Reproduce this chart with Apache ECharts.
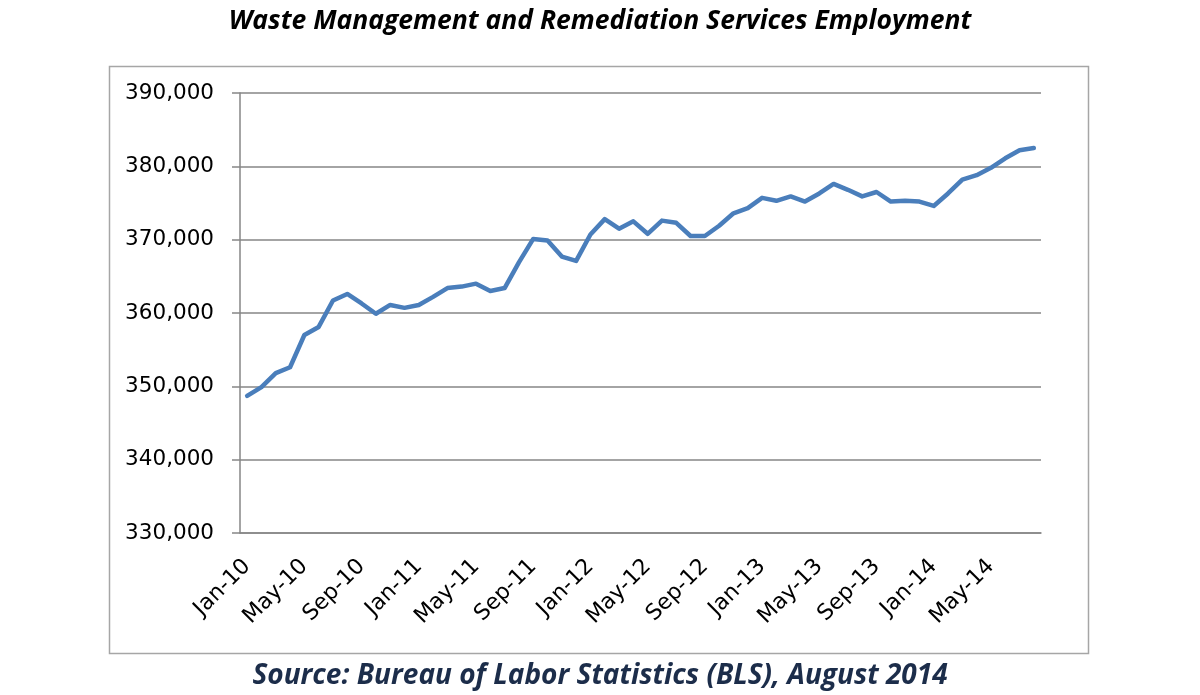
<!DOCTYPE html>
<html>
<head>
<meta charset="utf-8">
<script src="https://cdn.jsdelivr.net/npm/echarts@6/dist/echarts.min.js"></script>
<style>
  html, body { margin: 0; padding: 0; background: #fff; }
  #main { width: 1200px; height: 695px; }
</style>
</head>
<body>
<div id="main"></div>
<script>
// monthly employment, Jan 2010 - Aug 2014
var months = [
    'Jan-10','Feb-10','Mar-10','Apr-10','May-10','Jun-10','Jul-10','Aug-10','Sep-10','Oct-10','Nov-10','Dec-10',
    'Jan-11','Feb-11','Mar-11','Apr-11','May-11','Jun-11','Jul-11','Aug-11','Sep-11','Oct-11','Nov-11','Dec-11',
    'Jan-12','Feb-12','Mar-12','Apr-12','May-12','Jun-12','Jul-12','Aug-12','Sep-12','Oct-12','Nov-12','Dec-12',
    'Jan-13','Feb-13','Mar-13','Apr-13','May-13','Jun-13','Jul-13','Aug-13','Sep-13','Oct-13','Nov-13','Dec-13',
    'Jan-14','Feb-14','Mar-14','Apr-14','May-14','Jun-14','Jul-14','Aug-14'
];

var employment = [
    348700, 349900, 351800, 352600, 357000, 358100, 361700, 362600, 361300, 359900, 361100, 360700,
    361100, 362200, 363400, 363600, 364000, 363000, 363400, 366900, 370100, 369900, 367700, 367100,
    370700, 372800, 371500, 372500, 370800, 372600, 372300, 370500, 370500, 371900, 373600, 374300,
    375700, 375300, 375900, 375200, 376300, 377600, 376800, 375900, 376500, 375200, 375300, 375200,
    374600, 376300, 378200, 378800, 379800, 381100, 382200, 382500
];

var yTicks = { min: 330000, max: 390000, step: 10000 };

var chartTitle = 'Waste Management and Remediation Services Employment';
var sourceNote = 'Source: Bureau of Labor Statistics (BLS), August 2014';

var myChart = echarts.init(document.getElementById('main'));

var gridColor = '#868686';

myChart.setOption({
    animation: false,
    title: [
        {
            text: chartTitle,
            left: 'center',
            top: 3,
            textStyle: {
                fontFamily: 'Open Sans',
                fontStyle: 'italic',
                fontWeight: 'bold',
                fontSize: 26.5,
                color: '#000'
            }
        },
        {
            text: sourceNote,
            left: 'center',
            top: 657,
            textStyle: {
                fontFamily: 'Open Sans',
                fontStyle: 'italic',
                fontWeight: 'bold',
                fontSize: 28,
                color: '#1c2d4a'
            }
        }
    ],
    graphic: [{
        type: 'rect',
        left: 107,
        top: 64,
        shape: { width: 979, height: 587 },
        style: { fill: 'none', stroke: '#a6a6a6', lineWidth: 1.5 },
        silent: true
    }],
    grid: {
        left: 240,
        right: 159,
        top: 93,
        bottom: 162
    },
    xAxis: {
        type: 'category',
        data: months,
        boundaryGap: true,
        axisLine: { lineStyle: { color: gridColor, width: 1.5 } },
        axisTick: {
            interval: 3,
            length: 8,
            lineStyle: { color: gridColor, width: 1.5 }
        },
        axisLabel: {
            interval: 3,
            rotate: 45,
            margin: 30,
            fontFamily: 'DejaVu Sans',
            fontSize: 22,
            color: '#000'
        },
        splitLine: { show: false }
    },
    yAxis: {
        type: 'value',
        min: yTicks.min,
        max: yTicks.max,
        interval: yTicks.step,
        axisLine: { show: true, lineStyle: { color: gridColor, width: 1.5 } },
        axisTick: {
            show: true,
            length: 8,
            lineStyle: { color: gridColor, width: 1.5 }
        },
        axisLabel: {
            margin: 26,
            fontFamily: 'DejaVu Sans',
            fontSize: 21.5,
            color: '#000',
            formatter: function (v) {
                return v.toLocaleString('en-US');
            }
        },
        splitLine: { lineStyle: { color: gridColor, width: 1.5 } }
    },
    series: [{
        type: 'line',
        name: 'Employment',
        data: employment,
        showSymbol: false,
        lineStyle: { color: '#4a7ebb', width: 4.5, cap: 'round', join: 'round' },
        itemStyle: { color: '#4a7ebb' }
    }]
});
</script>
</body>
</html>
